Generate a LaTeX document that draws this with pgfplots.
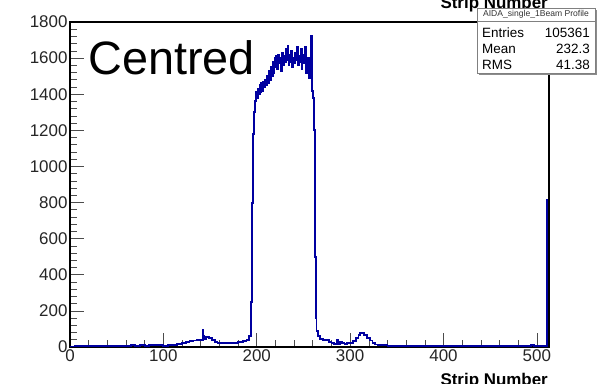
\documentclass[border=0pt]{standalone}
\usepackage{fontspec}
\setmainfont{Liberation Sans}
\usepackage{pgfplots}
\pgfplotsset{compat=1.18}
\definecolor{hist}{RGB}{0,0,160}
\begin{document}
\begin{tikzpicture}[x=1bp,y=1bp]
\path[use as bounding box, clip] (0,0) rectangle (597,383);
\fill[white] (0,0) rectangle (597,383);
\coordinate (O) at (70,36);
\begin{axis}[
  at={(O)}, anchor=south west,
  scale only axis, width=479bp, height=325bp,
  xmin=0, xmax=513, ymin=0, ymax=1800,
  axis line style={line width=1.4bp},
  tick align=inside, xtick pos=bottom, ytick pos=left,
  xtick={0,100,...,500}, minor x tick num=4,
  ytick={0,200,...,1800}, minor y tick num=4,
  major tick length=14bp, minor tick length=7bp,
  tick style={black!70, line width=0.6bp},
  every tick label/.append style={font=\fontsize{17}{17}\selectfont, text=black!85},
  /pgf/number format/assume math mode=true,
  /pgf/number format/1000 sep={},
  scaled y ticks=false,
  xticklabel style={yshift=1bp},
  yticklabel style={xshift=1bp},
  clip=false,
]
\addplot[const plot, color=hist, line width=1.9bp, mark=none] table {
x y
0 3
5 6
10 4
15 5
20 7
25 5
30 6
35 8
40 5
45 7
50 6
55 8
60 7
65 9
70 8
75 10
80 8
85 9
90 11
95 9
100 8
105 10
110 12
115 15
120 20
124 28
128 33
132 36
136 38
140 40
142 95
143 60
144 45
146 57
149 50
152 38
155 28
158 24
162 22
166 23
170 24
175 23
180 27
185 34
189 40
192 60
194 250
195 800
196 1180
197 1300
198 1360
199 1410
200 1380
201 1430
202 1400
203 1450
204 1410
205 1460
206 1420
207 1470
208 1440
209 1480
210 1450
211 1500
212 1460
213 1530
214 1480
215 1550
216 1500
217 1580
218 1520
219 1600
220 1550
221 1610
222 1540
223 1620
224 1570
225 1600
226 1530
227 1630
228 1560
229 1610
230 1580
231 1650
232 1590
233 1670
234 1560
235 1620
236 1580
237 1640
238 1550
239 1600
240 1570
241 1630
242 1590
243 1660
244 1560
245 1610
246 1580
247 1650
248 1540
249 1600
250 1620
251 1570
252 1660
253 1520
254 1600
255 1580
256 1490
257 1600
258 1720
259 1420
260 1380
261 1200
262 500
263 160
264 90
266 60
268 45
271 40
274 38
277 30
280 22
283 18
286 40
287 15
289 30
291 20
294 18
297 20
300 24
303 35
306 50
309 68
311 80
313 76
315 68
318 52
321 36
324 22
327 14
330 11
335 9
340 8
345 7
350 8
355 6
360 7
365 6
370 7
375 5
380 6
385 7
390 5
395 6
400 7
405 5
410 6
415 5
420 7
425 5
430 6
435 5
440 6
445 4
450 6
455 5
460 7
465 5
470 6
475 5
480 6
485 8
490 6
494 10
497 5
500 6
505 5
508 6
511 815
512 815
};
\end{axis}
% Text labels
\node[anchor=base west, inner sep=0pt, font=\fontsize{47}{47}\selectfont] at (88,309) {Centred};
\node[anchor=base east, inner sep=0pt, font=\bfseries\fontsize{17}{17}\selectfont] at (548,-2) {Strip Number};
\node[anchor=base east, inner sep=0pt, font=\bfseries\fontsize{17}{17}\selectfont] at (548,375) {Strip Number};
% Stats box
\fill[black!45] (479,308) rectangle (597,373);
\filldraw[fill=white, draw=black!50, line width=0.8bp] (477,310) rectangle (595,375);
\draw[black!50, line width=0.6bp] (477,362) -- (595,362);
\node[anchor=center, inner sep=0pt, font=\fontsize{8.6}{9}\selectfont, text=black!80] at (536,368.5) {AIDA\_single\_1Beam Profile};
\node[anchor=base west, inner sep=0pt, font=\fontsize{13.5}{14}\selectfont] at (482,345.5) {Entries};
\node[anchor=base east, inner sep=0pt, font=\fontsize{13.5}{14}\selectfont] at (590,345.5) {105361};
\node[anchor=base west, inner sep=0pt, font=\fontsize{13.5}{14}\selectfont] at (482,329.5) {Mean};
\node[anchor=base east, inner sep=0pt, font=\fontsize{13.5}{14}\selectfont] at (590,329.5) {232.3};
\node[anchor=base west, inner sep=0pt, font=\fontsize{13.5}{14}\selectfont] at (482,314) {RMS};
\node[anchor=base east, inner sep=0pt, font=\fontsize{13.5}{14}\selectfont] at (590,314) {41.38};
\end{tikzpicture}
\end{document}
